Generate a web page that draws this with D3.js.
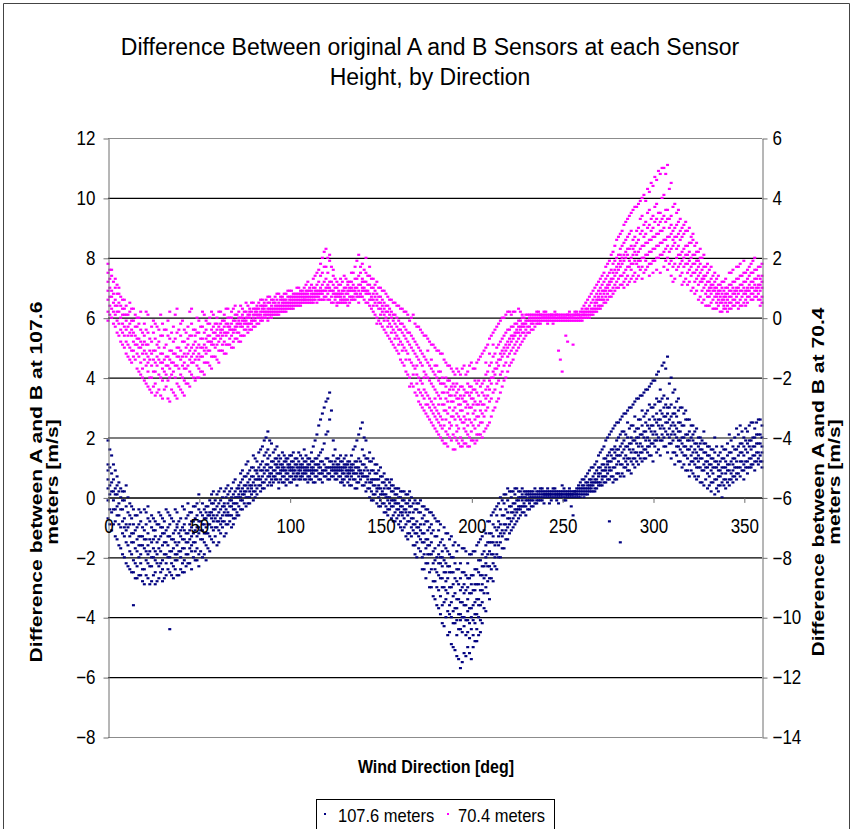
<!DOCTYPE html>
<html>
<head>
<meta charset="utf-8">
<script src="https://cdn.jsdelivr.net/npm/d3@7"></script>
<style>
  body { margin: 0; background: #fff; }
  text { font-family: "Liberation Sans", Arial, sans-serif; }
</style>
</head>
<body>
<div class="chart"></div>
<script>
// chart texts
var titleLines = ["Difference Between original A and B Sensors at each Sensor", "Height, by Direction"];
var xTitle = "Wind Direction [deg]";
var leftTitle = ["Difference between A and B at 107.6", "meters [m/s]"];
var rightTitle = ["Difference between A and B at 70.4", "meters [m/s]"];
var seriesNames = ["107.6 meters", "70.4 meters"];

// ticks
var xTicks = [0, 50, 100, 150, 200, 250, 300, 350];
var leftTicks = [-8, -6, -4, -2, 0, 2, 4, 6, 8, 10, 12];
var rightTicks = [-14, -12, -10, -8, -6, -4, -2, 0, 2, 4, 6];

// 107.6 m differences [m/s]: [direction, values...]
var upper = [
  [0, 1.9, 0.6, -0.1, 1.1, -0.7, 0.3, 0.9], [2, 1.4, 0.2, -0.5, 0.8, -1.1, 0.5], [4, 0.9, -0.4, -1.3, 0.3, -0.8, 0.1],
  [6, 0.5, -0.9, -0.2, -1.6, -0.6, 0.2], [8, 0.2, -1.2, -0.4, -1.9, -0.8, -0.1], [10, -0.3, -1.5, 0.4, -2.2, -0.9, -1.1],
  [12, -0.6, -1.8, -0.2, -1.3, -2.4, -0.9], [14, -0.9, -2.1, -0.4, -1.5, -3.6, -1.2, -2.5], [16, -1.4, -0.6, -2.3, -1.0, -2.7, -1.8],
  [18, -0.8, -1.9, -1.3, -2.6, -0.5, -1.6, -2.2], [20, -1.1, -2.4, -0.4, -1.7, -2.9, -1.4], [22, -1.6, -0.7, -2.2, -1.2, -2.7, -1.9, -0.3],
  [24, -2.0, -1.0, -2.8, -1.5, -0.6, -2.3], [26, -1.3, -2.5, -0.8, -1.8, -2.9, -1.1, -2.1], [28, -1.7, -0.5, -2.3, -1.4, -2.7, -0.9],
  [30, -2.1, -1.2, -2.8, -0.7, -1.6, -2.4, -1.0], [32, -1.5, -2.6, -0.4, -1.9, -1.1, -2.2], [34, -1.8, -0.9, -4.4, -1.3, -2.5, -0.6, -2.0],
  [36, -1.2, -2.3, -0.8, -1.7, -2.7, -1.4], [38, -1.6, -0.5, -2.1, -1.0, -2.6, -1.9, -0.9], [40, -1.3, -2.4, -0.7, -1.8, -1.1, -2.0],
  [42, -0.9, -1.7, -2.5, -0.4, -1.4, -2.1, -1.1], [44, -1.5, -0.6, -2.2, -1.2, -1.9, -0.2], [46, -1.0, -1.8, -0.5, -2.4, -1.3, -0.8, -1.6],
  [48, -0.7, -1.5, -2.1, -0.3, -1.1, -1.8], [50, -1.2, -0.4, -1.9, -0.8, -2.3, -1.0, 0.1], [52, -0.6, -1.4, -0.9, -2.0, -0.2, -1.1],
  [54, -1.0, -0.3, -1.6, -0.7, -2.1, -1.2, -0.5], [56, -0.5, -1.3, -0.1, -0.9, -1.8, -0.6], [58, -0.8, -0.2, -1.5, -0.6, -1.1, 0.2, -0.4],
  [60, -0.3, -1.0, -0.6, -1.6, 0.1, -0.8], [62, -0.7, -0.1, -1.2, -0.4, -0.9, 0.3], [64, -0.2, -0.8, -0.5, -1.3, 0.2, -0.3],
  [66, -0.5, 0.1, -0.9, -0.2, -0.6, 0.4], [68, 0.0, -0.6, -0.3, -1.0, 0.3, -0.1], [70, -0.4, 0.2, -0.7, 0.0, -0.2, 0.6],
  [72, 0.1, -0.3, 0.4, -0.6, 0.0, 0.3], [74, -0.1, 0.3, -0.4, 0.6, 0.1, 0.9], [76, 0.4, 0.0, 0.7, -0.3, 0.2, 1.1],
  [78, 0.2, 0.6, 0.0, 0.9, 0.4, -0.2], [80, 0.5, 0.2, 1.0, 0.7, -0.1, 1.4], [82, 0.8, 0.3, 0.6, 1.2, 0.1, 0.9],
  [84, 0.6, 1.1, 0.4, 1.6, 0.9, 0.2], [86, 1.0, 0.5, 1.4, 0.8, 1.9, 0.3], [88, 0.7, 1.3, 2.2, 0.9, 1.6, 0.4, 1.1],
  [90, 1.2, 0.6, 1.0, 1.8, 0.8, 0.4], [92, 0.9, 1.3, 0.6, 1.1, 1.6, 0.7], [94, 0.8, 1.2, 0.5, 1.0, 1.4, 0.3],
  [96, 1.1, 0.7, 0.9, 1.5, 0.5, 1.0], [98, 0.9, 0.6, 1.2, 0.8, 1.3, 0.4], [100, 0.7, 1.0, 0.5, 1.4, 0.9, 1.1],
  [102, 1.0, 0.8, 1.2, 0.6, 0.9, 1.5], [104, 0.8, 1.1, 0.4, 1.0, 1.3, 0.7], [106, 1.1, 0.7, 0.9, 1.4, 0.6, 1.0],
  [108, 0.9, 1.2, 0.6, 0.8, 1.6, 1.0], [110, 0.7, 1.0, 1.3, 0.5, 0.9, 1.1], [112, 1.0, 0.8, 1.5, 0.6, 1.2, 0.9],
  [114, 0.9, 1.9, 0.7, 1.1, 0.5, 1.3], [116, 1.1, 0.8, 2.4, 1.0, 0.6, 1.4], [118, 0.8, 1.2, 2.8, 0.9, 1.6, 0.5],
  [120, 1.0, 3.2, 0.7, 1.3, 2.1, 0.9], [122, 1.2, 0.8, 3.5, 1.0, 2.6, 0.6], [124, 0.9, 1.1, 0.7, 1.9, 1.0, 1.4],
  [126, 1.1, 0.8, 1.3, 0.6, 1.0, 0.9], [128, 0.9, 1.2, 0.7, 1.0, 0.5, 1.4], [130, 1.0, 0.6, 1.1, 0.8, 1.3, 0.4],
  [132, 0.8, 1.1, 0.5, 0.9, 1.2, 0.7], [134, 1.0, 0.7, 1.4, 0.4, 0.9, 1.1], [136, 0.6, 1.0, 0.8, 1.7, 0.3, 1.2],
  [138, 0.9, 0.5, 1.3, 2.1, 0.7, 1.0], [140, 0.7, 2.5, 0.4, 1.1, 0.8, 1.6], [142, 0.5, 1.0, 0.2, 1.9, 0.7, 1.3],
  [144, 0.8, 0.3, 1.2, 0.5, 0.0, 1.5], [146, 0.4, 0.9, 0.1, 0.6, 1.3, -0.1], [148, 0.6, 0.2, 1.1, 0.3, -0.2, 0.8],
  [150, 0.3, -0.1, 0.7, 0.1, 1.0, -0.3], [152, 0.1, 0.5, -0.2, 0.3, -0.5, 0.8], [154, -0.1, 0.3, -0.4, 0.6, 0.0, -0.6],
  [156, 0.2, -0.3, 0.4, -0.1, -0.7, 0.6], [158, -0.2, 0.1, -0.5, 0.3, -0.8, -0.1], [160, -0.4, 0.0, -0.2, -0.9, 0.3, -0.6],
  [162, -0.1, -0.6, 0.2, -0.3, -1.1, -0.5], [164, -0.5, -0.2, -0.9, 0.1, -1.3, -0.4], [166, -0.3, -0.8, -0.1, -1.2, -0.5, 0.2],
  [168, -0.7, -0.2, -1.1, -0.5, -1.6, -0.9], [170, -0.4, -1.0, -1.5, -0.2, -0.8, -2.0, -1.2], [172, -0.9, -0.5, -1.4, -0.1, -1.8, -1.1],
  [174, -1.2, -0.6, -1.9, -0.9, -2.4, -1.5, -0.3], [176, -0.8, -1.6, -1.1, -2.2, -0.4, -1.9, -1.4], [178, -1.5, -0.9, -2.4, -1.2, -3.0, -1.9, -0.5],
  [180, -1.3, -2.1, -2.8, -1.7, -3.4, -0.7, -2.4], [182, -1.9, -1.1, -2.6, -3.1, -1.6, -2.2, -3.7, -0.8],
  [184, -2.3, -1.4, -3.0, -2.0, -3.6, -1.8, -4.2, -2.7], [186, -1.7, -2.8, -3.4, -2.2, -4.0, -1.2, -3.1, -2.5],
  [188, -2.5, -3.6, -1.9, -3.0, -4.5, -2.3, -3.9, -1.4], [190, -2.9, -2.0, -3.8, -3.3, -5.0, -2.5, -4.2, -1.6],
  [192, -3.4, -2.4, -4.1, -2.8, -5.3, -3.7, -1.8, -4.6], [194, -2.7, -3.9, -3.1, -4.4, -2.2, -5.7, -3.5, -4.1],
  [196, -3.6, -2.5, -4.3, -3.2, -5.2, -2.9, -4.0, -1.7], [198, -3.0, -4.1, -2.7, -3.8, -5.0, -3.4, -4.5, -2.2],
  [200, -3.7, -2.6, -4.4, -3.2, -5.4, -2.9, -4.0, -1.9], [202, -2.9, -4.2, -3.5, -2.4, -4.8, -3.9, -1.8, -3.1],
  [204, -3.4, -2.5, -4.0, -2.9, -4.6, -2.1, -3.6, -1.5], [206, -2.6, -3.5, -1.9, -3.1, -4.2, -2.3, -1.3, -2.9],
  [208, -2.2, -3.0, -1.6, -2.6, -3.8, -1.2, -2.0], [210, -1.8, -2.7, -1.2, -2.3, -3.4, -0.8, -1.5],
  [212, -1.5, -2.2, -0.9, -1.9, -2.8, -0.5, -1.3], [214, -1.1, -1.9, -0.6, -1.5, -2.4, -0.3], [216, -0.9, -1.5, -0.4, -1.2, -2.0, 0.0],
  [218, -0.6, -1.2, -0.2, -0.9, -1.7, 0.1], [220, -0.5, -1.0, -0.1, -0.7, -1.4, 0.3], [222, -0.3, -0.8, 0.0, -0.5, -1.1, 0.2],
  [224, -0.2, -0.6, 0.1, -0.4, -0.9, 0.3], [226, -0.1, -0.4, 0.2, -0.3, -0.7, 0.0], [228, 0.0, -0.3, 0.1, -0.5, -0.1, 0.3],
  [230, -0.1, 0.1, -0.3, 0.0, -0.6, 0.2], [232, 0.0, -0.2, 0.2, -0.1, 0.1, -0.4], [234, 0.1, -0.1, 0.0, 0.2, -0.3],
  [236, 0.0, 0.2, -0.1, 0.1, -0.2], [238, 0.1, 0.0, 0.2, -0.1, 0.3], [240, 0.1, 0.2, 0.0, 0.1, -0.2],
  [242, 0.0, 0.1, 0.2, 0.1, 0.3], [244, 0.2, 0.1, 0.0, 0.1, -0.1], [246, 0.1, 0.0, 0.2, 0.1, 0.3],
  [248, 0.1, 0.2, 0.0, 0.1, -0.2], [250, 0.0, 0.1, 0.2, 0.1, 0.4], [252, 0.2, 0.1, 0.0, 0.1, -0.1],
  [254, 0.1, 0.2, 0.1, 0.0, 0.3], [256, 0.1, 0.0, 0.2, -0.6, 0.1], [258, 0.2, 0.1, 0.0, 0.1, 0.3],
  [260, 0.2, 0.0, 0.3, 0.1, 0.5], [262, 0.3, 0.1, 0.4, 0.0, 0.6, 0.2], [264, 0.2, 0.5, 0.1, 0.3, 0.8, 0.4],
  [266, 0.4, 0.2, 0.6, 0.3, 1.0, 0.5], [268, 0.5, 0.3, 0.8, 0.2, 1.1, 0.6], [270, 0.7, 0.4, 1.0, 0.5, 1.4, 0.8],
  [272, 0.6, 1.1, 0.4, 0.9, 1.6, 0.7], [274, 0.9, 0.5, 1.3, 0.7, 1.9, 1.0], [276, 1.2, 0.6, 1.5, 0.9, 2.1, 1.0, -0.8],
  [278, 1.0, 1.6, 0.7, 1.3, 2.3, 0.5], [280, 1.4, 0.8, 1.9, 1.1, 2.5, 0.6, 1.6], [282, 1.1, 1.7, 0.7, 2.1, 1.4, -1.5, 2.6],
  [284, 1.6, 1.0, 2.2, 1.3, 2.8, 0.7, 1.9], [286, 1.3, 2.0, 0.9, 1.7, 2.5, 1.1, 2.9], [288, 1.8, 1.2, 2.4, 0.8, 2.0, 3.0, 1.5],
  [290, 1.5, 2.2, 1.0, 1.9, 2.7, 1.3, 3.2], [292, 2.0, 1.4, 2.6, 1.1, 2.3, 3.3, 1.7], [294, 1.7, 2.4, 1.2, 2.1, 2.9, 1.5, 3.4],
  [296, 2.2, 1.6, 2.8, 1.3, 2.5, 3.6, 1.9], [298, 1.9, 2.6, 1.4, 2.3, 3.1, 1.7, 3.7], [300, 2.4, 1.8, 3.0, 1.2, 2.7, 3.9, 2.1],
  [302, 2.1, 2.8, 1.5, 2.5, 3.3, 1.9, 4.1], [304, 2.6, 1.9, 3.2, 1.4, 2.9, 3.6, 2.3], [306, 2.3, 3.0, 1.7, 2.7, 4.5, 2.0, 3.4],
  [308, 2.8, 2.1, 3.3, 1.5, 2.5, 4.7, 3.0], [310, 2.4, 1.8, 3.1, 1.3, 2.7, 4.0, 2.1], [312, 2.1, 2.8, 1.5, 2.4, 3.6, 1.1, 3.0],
  [314, 2.5, 1.7, 2.9, 1.2, 2.2, 3.3, 1.9], [316, 1.8, 2.4, 1.0, 2.0, 3.0, 1.5], [318, 2.1, 1.4, 2.6, 0.9, 1.7, 2.9],
  [320, 1.6, 2.2, 1.1, 1.9, 0.7, 2.6], [322, 1.9, 1.2, 2.4, 0.8, 1.5, 2.1], [324, 1.3, 1.8, 0.6, 1.5, 2.3, 1.0],
  [326, 1.6, 1.0, 2.0, 0.5, 1.3, 1.8], [328, 1.1, 1.5, 0.4, 1.8, 0.9, 2.2], [330, 1.4, 0.8, 1.2, 0.3, 1.7, 1.0],
  [332, 0.9, 1.3, 0.5, 1.6, 0.2, 1.1], [334, 1.2, 0.6, 1.0, 0.1, 1.5, 2.0], [336, 0.7, 1.1, 0.4, 1.4, 0.9, 0.2],
  [338, 1.0, 0.5, 1.3, 0.8, 0.0, 1.7], [340, 0.8, 1.2, 0.3, 1.0, 1.6, 0.6], [342, 1.1, 0.6, 1.5, 0.9, 2.1, 0.4],
  [344, 0.9, 1.3, 0.5, 1.7, 1.1, 0.7], [346, 1.2, 0.8, 1.6, 0.6, 1.0, 2.3], [348, 1.0, 1.5, 0.7, 1.8, 1.2, 2.4],
  [350, 1.4, 0.9, 1.7, 1.1, 2.0, 0.6], [352, 1.2, 1.8, 1.0, 1.5, 2.2, 0.8], [354, 1.6, 1.1, 1.9, 1.3, 2.5, 1.0],
  [356, 1.4, 2.0, 1.2, 1.7, 2.3, 0.9], [358, 1.8, 1.3, 2.1, 1.5, 2.6, 1.1], [360, 1.5, 2.0, 1.2, 1.7, 2.4, 1.0],
  // odd directions
  [1, 1.6, 0.4, -0.4, 1.0, 0.1, -0.9], [3, 1.1, -0.1, 0.6, -0.9, 0.2, -0.4], [5, 0.7, -0.6, 0.1, -1.4, -0.3, 0.4],
  [7, 0.3, -1.0, -0.4, -1.7, 0.0], [9, -0.1, -1.3, -0.7, -2.0, 0.2, -1.0], [11, -0.5, -1.6, -1.0, -2.3, 0.0],
  [13, -0.7, -1.9, -1.2, -2.5, -0.3, -1.5], [15, -1.1, -2.2, -0.6, -1.7, -2.7], [17, -1.3, -0.9, -2.0, -2.6, -1.6, -0.4],
  [19, -1.6, -2.4, -1.0, -2.8, -1.3], [21, -0.9, -1.8, -2.6, -1.4, -0.5, -2.1], [23, -1.4, -2.3, -0.8, -2.9, -1.8],
  [25, -1.7, -1.1, -2.6, -2.0, -0.7, -1.4], [27, -2.2, -1.5, -0.9, -2.8, -1.9], [29, -1.3, -2.5, -1.8, -0.6, -2.2, -1.0],
  [31, -1.9, -1.2, -2.7, -1.5, -0.8], [33, -1.6, -2.4, -1.0, -2.0, -0.5, -1.3], [35, -2.2, -1.4, -0.7, -2.6, -1.8],
  [37, -1.1, -1.9, -2.4, -1.5, -0.4, -2.1], [39, -1.8, -1.2, -2.6, -0.8, -1.5], [41, -1.4, -2.2, -1.0, -1.7, -0.3, -2.5],
  [43, -1.9, -1.2, -0.7, -2.3, -1.5], [45, -1.1, -1.7, -2.2, -0.5, -1.4, -0.9], [47, -1.5, -0.8, -2.0, -1.2, -0.3],
  [49, -1.0, -1.7, -0.6, -2.1, -1.3, -0.2], [51, -1.4, -0.8, -1.8, -0.5, -1.1], [53, -0.9, -1.5, -0.4, -1.2, -1.9, -0.7],
  [55, -1.2, -0.6, -1.7, -0.3, -0.9], [57, -0.7, -1.4, -0.2, -1.0, -0.5, 0.1], [59, -1.0, -0.4, -1.3, -0.7, -0.1],
  [61, -0.5, -1.1, -0.2, -0.8, -1.5, 0.2], [63, -0.8, -0.3, -1.0, -0.6, 0.0], [65, -0.4, -0.9, 0.0, -0.6, -1.2, 0.3],
  [67, -0.6, -0.1, -0.8, -0.3, 0.2], [69, -0.2, -0.7, 0.1, -0.4, -0.9, 0.5], [71, -0.5, 0.0, -0.2, 0.3, -0.6],
  [73, 0.0, -0.4, 0.2, -0.1, 0.5, 0.8], [75, 0.1, 0.4, -0.2, 0.2, 0.7], [77, 0.3, 0.0, 0.5, -0.2, 0.8, 1.2],
  [79, 0.4, 0.1, 0.7, 0.3, 1.0], [81, 0.6, 0.2, 0.9, 0.4, 1.3, 0.0], [83, 0.7, 0.4, 1.0, 0.6, 1.5],
  [85, 0.9, 0.5, 1.2, 0.7, 1.7, 0.3], [87, 1.1, 0.6, 1.5, 0.9, 2.0], [89, 1.0, 0.7, 1.4, 0.5, 1.9, 0.8],
  [91, 0.9, 1.2, 0.7, 1.5, 0.5], [93, 1.1, 0.8, 1.3, 0.6, 1.0, 1.7], [95, 0.9, 1.1, 0.6, 1.3, 0.8],
  [97, 1.0, 0.7, 1.2, 0.5, 0.9, 1.4], [99, 0.8, 1.1, 0.6, 1.0, 1.3], [101, 1.0, 0.7, 1.2, 0.9, 0.5, 1.4],
  [103, 0.9, 1.1, 0.7, 1.3, 0.6], [105, 1.0, 0.8, 1.2, 0.6, 0.9, 1.5], [107, 0.8, 1.1, 0.7, 1.0, 1.3],
  [109, 1.0, 0.6, 1.2, 0.8, 0.9, 1.4], [111, 0.9, 1.1, 0.7, 1.3, 0.6], [113, 1.0, 0.8, 1.2, 0.5, 1.7, 0.9],
  [115, 0.9, 1.1, 0.7, 2.1, 1.3], [117, 1.0, 0.8, 1.2, 2.6, 0.6, 1.5], [119, 0.9, 1.1, 3.0, 0.7, 1.8],
  [121, 1.0, 0.8, 1.3, 3.3, 0.6, 2.2], [123, 0.9, 1.2, 0.7, 2.9, 1.0], [125, 1.0, 0.8, 1.2, 0.6, 1.6, 0.9],
  [127, 0.9, 1.1, 0.7, 1.0, 1.3], [129, 0.8, 1.0, 0.6, 1.2, 0.9, 0.5], [131, 1.0, 0.7, 1.1, 0.9, 1.4],
  [133, 0.8, 1.0, 0.6, 1.2, 0.4, 0.9], [135, 0.9, 1.1, 0.6, 1.6, 0.8], [137, 0.8, 1.2, 0.5, 1.9, 1.0, 0.3],
  [139, 0.9, 0.6, 1.2, 2.3, 0.8], [141, 0.7, 1.1, 0.4, 2.0, 0.9, 1.4], [143, 0.6, 0.9, 0.3, 1.3, 0.7],
  [145, 0.5, 0.9, 0.2, 1.2, 0.6, -0.1], [147, 0.4, 0.8, 0.1, 0.6, 1.1], [149, 0.3, 0.6, 0.0, 0.9, 0.4, -0.3],
  [151, 0.2, 0.5, -0.2, 0.7, 0.1], [153, 0.1, 0.4, -0.3, 0.6, 0.0, -0.5], [155, 0.0, 0.3, -0.4, 0.5, -0.2],
  [157, -0.1, 0.2, -0.6, 0.4, -0.3, -0.8], [159, -0.2, 0.1, -0.7, 0.3, -0.4], [161, -0.3, 0.0, -0.8, 0.2, -0.5, -1.0],
  [163, -0.4, -0.1, -1.0, 0.2, -0.7], [165, -0.6, -0.2, -1.2, 0.1, -0.8, -1.4], [167, -0.7, -0.3, -1.3, 0.0, -1.0],
  [169, -0.9, -0.4, -1.6, -0.1, -1.2, -1.9], [171, -1.0, -0.5, -1.7, -0.2, -1.3], [173, -1.2, -0.7, -2.0, -0.3, -1.5, -2.4],
  [175, -1.4, -0.8, -2.2, -0.4, -1.7, -2.7], [177, -1.6, -1.0, -2.5, -0.5, -1.9, -3.0], [179, -1.8, -1.1, -2.8, -0.6, -2.2, -3.3],
  [181, -2.0, -1.3, -3.0, -0.8, -2.5, -3.6], [183, -2.2, -1.5, -3.3, -0.9, -2.7, -3.9, -2.0], [185, -2.5, -1.6, -3.5, -1.0, -3.0, -4.3, -2.1],
  [187, -2.7, -1.8, -3.8, -1.2, -3.2, -4.6, -2.3], [189, -3.0, -2.0, -4.0, -1.3, -3.5, -4.9, -2.5], [191, -3.2, -2.2, -4.2, -1.5, -3.7, -5.1, -2.7],
  [193, -3.4, -2.4, -4.4, -1.6, -3.9, -5.4, -2.9], [195, -3.5, -2.5, -4.5, -1.7, -4.0, -5.5, -3.0], [197, -3.6, -2.6, -4.6, -1.8, -4.1, -5.3, -3.1],
  [199, -3.7, -2.7, -4.7, -1.9, -4.2, -5.2, -3.2], [201, -3.6, -2.6, -4.6, -1.8, -4.1, -5.0, -3.1], [203, -3.4, -2.4, -4.4, -1.6, -3.9, -4.8, -2.9],
  [205, -3.1, -2.1, -4.1, -1.4, -3.6, -4.5, -2.6], [207, -2.7, -1.8, -3.7, -1.1, -3.2, -2.3], [209, -2.3, -1.5, -3.2, -0.8, -2.8, -1.9],
  [211, -1.9, -1.2, -2.7, -0.6, -2.4, -1.5], [213, -1.6, -1.0, -2.3, -0.4, -2.0], [215, -1.3, -0.8, -2.0, -0.2, -1.6, -1.0],
  [217, -1.1, -0.6, -1.7, -0.1, -1.3], [219, -0.9, -0.4, -1.4, 0.1, -1.1], [221, -0.7, -0.3, -1.2, 0.2, -0.9],
  [223, -0.5, -0.2, -1.0, 0.2, -0.7], [225, -0.4, -0.1, -0.8, 0.3, -0.5], [227, -0.3, 0.0, -0.6, 0.2, -0.4],
  [229, -0.2, 0.0, -0.5, 0.2, -0.3], [231, -0.1, 0.1, -0.4, 0.2], [233, -0.1, 0.1, -0.3, 0.2, 0.0],
  [235, 0.0, 0.1, -0.2, 0.3], [237, 0.1, -0.1, 0.2, 0.0], [239, 0.0, 0.2, 0.1, -0.1, 0.3],
  [241, 0.1, 0.0, 0.2, 0.1], [243, 0.1, 0.2, 0.0, -0.2, 0.1], [245, 0.2, 0.1, 0.0, 0.3],
  [247, 0.0, 0.1, 0.2, 0.1, -0.1], [249, 0.1, 0.2, 0.0, 0.1], [251, 0.1, 0.0, 0.2, 0.3, -0.1],
  [253, 0.0, 0.1, 0.2, 0.1], [255, 0.1, 0.2, 0.0, 0.1, -0.3], [257, 0.2, 0.1, 0.0, 0.2],
  [259, 0.1, 0.2, 0.3, 0.0, 0.4], [261, 0.2, 0.1, 0.4, 0.3, 0.6], [263, 0.3, 0.1, 0.5, 0.2, 0.7],
  [265, 0.4, 0.2, 0.6, 0.3, 0.9], [267, 0.5, 0.2, 0.7, 0.4, 1.0], [269, 0.6, 0.3, 0.9, 0.5, 1.2],
  [271, 0.8, 0.4, 1.0, 0.5, 1.5], [273, 0.7, 0.5, 1.3, 0.9, 1.7, 1.1], [275, 1.1, 0.6, 1.4, 0.8, 2.0, 1.2],
  [277, 0.9, 0.7, 1.6, 1.2, 2.2, 1.4], [279, 1.3, 0.6, 1.7, 1.0, 2.4, 1.5], [281, 1.2, 0.8, 2.0, 1.4, 2.5, 1.6],
  [283, 1.5, 0.8, 1.8, 1.1, 2.7, 2.2], [285, 1.4, 1.0, 2.1, 1.7, 2.8, 1.2], [287, 1.8, 0.9, 2.3, 1.3, 3.0, 1.6],
  [289, 1.6, 1.1, 2.4, 1.9, 3.1, 1.3], [291, 2.0, 1.2, 2.3, 1.5, 3.3, 1.8], [293, 1.8, 1.3, 2.6, 2.1, 3.4, 1.5],
  [295, 2.2, 1.3, 2.7, 1.6, 3.5, 2.0], [297, 2.0, 1.5, 2.9, 2.4, 3.6, 1.7], [299, 2.4, 1.4, 3.0, 1.8, 3.8, 2.2],
  [301, 2.2, 1.7, 3.1, 2.6, 3.9, 1.9], [303, 2.6, 1.6, 3.2, 2.0, 4.2, 2.4], [305, 2.4, 1.9, 3.3, 2.8, 4.4, 2.1],
  [307, 2.7, 1.7, 3.1, 2.2, 4.3, 2.5], [309, 2.3, 1.8, 3.0, 2.6, 3.8, 2.0], [311, 2.5, 1.5, 2.8, 1.9, 3.5, 2.2],
  [313, 2.0, 1.4, 2.7, 2.3, 3.2, 1.7], [315, 2.2, 1.2, 2.5, 1.6, 3.0, 1.9], [317, 1.7, 1.1, 2.4, 2.0, 2.8, 1.4],
  [319, 1.9, 0.9, 2.1, 1.3, 2.6, 1.6], [321, 1.4, 0.9, 2.0, 1.7, 2.4, 1.2], [323, 1.6, 0.7, 1.8, 1.1, 2.2, 1.3],
  [325, 1.2, 0.7, 1.7, 1.4, 2.0, 1.0], [327, 1.3, 0.5, 1.6, 0.9, 1.9], [329, 1.0, 0.6, 1.5, 1.2, 1.8],
  [331, 1.1, 0.4, 1.4, 0.7, 1.7], [333, 0.8, 0.5, 1.3, 1.0, 1.6], [335, 1.0, 0.3, 1.2, 0.6, 1.7],
  [337, 0.7, 0.4, 1.2, 0.9, 1.5], [339, 1.0, 0.4, 1.3, 0.6, 1.6], [341, 0.9, 0.5, 1.4, 1.1, 1.8],
  [343, 1.2, 0.6, 1.5, 0.8, 1.9], [345, 1.0, 0.7, 1.6, 1.3, 2.0], [347, 1.4, 0.8, 1.7, 1.0, 2.1],
  [349, 1.2, 0.9, 1.8, 1.5, 2.2], [351, 1.6, 1.0, 1.9, 1.2, 2.3], [353, 1.3, 1.0, 1.9, 1.7, 2.4],
  [355, 1.7, 1.1, 2.0, 1.4, 2.5], [357, 1.5, 1.2, 2.1, 1.8, 2.5], [359, 1.8, 1.2, 2.1, 1.4, 2.6]
];

// 70.4 m differences [m/s] (right axis): [direction, values...]
var lower = [
  [0, 1.8, 0.6, 1.2, 0.2, 0.9, 1.5, -0.1], [2, 1.4, 0.3, 0.9, 0.0, 0.7, 1.6], [4, 1.0, 0.1, 0.6, -0.3, 0.4, 1.3],
  [6, 0.5, -0.2, 0.8, -0.6, 0.2, 1.0], [8, 0.3, -0.5, 0.1, -0.9, 0.6, -0.2], [10, -0.1, -0.8, 0.4, -0.4, -1.2, 0.1],
  [12, -0.5, 0.2, -1.0, -0.2, -1.4, 0.5], [14, -0.8, -0.1, -1.3, -0.5, 0.3, -1.1], [16, -0.3, -1.2, -0.7, -1.7, 0.0, -0.9],
  [18, -1.0, -0.4, -1.5, -0.8, -1.9, 0.2], [20, -0.6, -1.4, -0.2, -1.1, -2.1, -0.8], [22, -1.3, -0.5, -1.8, -0.9, -2.3, 0.1, -1.5],
  [24, -0.8, -1.6, -0.3, -2.0, -1.2, -2.5], [26, -1.5, -0.7, -2.2, -1.1, -0.2, -1.8, -2.6], [28, -1.0, -1.9, -0.4, -1.4, -2.4, -0.8],
  [30, -1.7, -0.6, -2.1, -1.2, -2.7, -0.2, -1.5], [32, -0.9, -1.6, -2.3, -0.4, -1.3, -1.9], [34, -1.4, -0.7, -2.0, -2.8, -1.1, 0.2, -1.7],
  [36, -0.8, -1.8, -1.2, -2.5, -0.3, -1.5], [38, -1.6, -0.5, -2.2, -1.0, -2.7, -1.3, 0.3], [40, -1.1, -1.9, -0.6, -1.4, -2.4, -0.2],
  [42, -1.5, -0.8, -2.1, -1.2, -0.4, -1.7, -2.6], [44, -0.9, -1.6, -0.3, -1.2, -2.2, -0.7], [46, -1.3, -0.6, -1.9, -1.0, -0.2, -1.5, 0.3],
  [48, -0.8, -1.4, -0.4, -2.1, -1.1, -0.6], [50, -1.2, -0.5, -1.7, -0.9, -0.1, -1.4, -2.0], [52, -0.7, -1.3, -0.3, -1.0, -1.8, 0.2],
  [54, -1.0, -0.4, -1.5, -0.7, -0.1, -1.2], [56, -0.6, -1.1, -0.2, -0.8, -1.6, 0.0], [58, -0.9, -0.3, -1.3, -0.5, 0.1, -0.7],
  [60, -0.4, -0.9, 0.0, -0.6, -1.4, -0.2], [62, -0.7, -0.2, -1.1, -0.4, 0.2, -0.5], [64, -0.3, -0.8, 0.1, -0.5, -1.2, -0.1],
  [66, -0.5, 0.0, -0.9, -0.3, 0.3, -0.2], [68, -0.2, -0.6, 0.2, -0.4, -1.0, 0.0], [70, -0.4, 0.1, -0.7, -0.1, 0.4, -0.3],
  [72, -0.1, -0.5, 0.2, -0.2, -0.8, 0.0], [74, -0.3, 0.1, -0.6, 0.3, -0.1, 0.0], [76, 0.0, -0.4, 0.2, -0.1, 0.5, -0.2],
  [78, -0.2, 0.1, -0.4, 0.3, 0.0, 0.2], [80, 0.1, -0.3, 0.3, 0.0, 0.5, -0.1], [82, 0.0, 0.2, -0.2, 0.4, 0.1, 0.3],
  [84, 0.2, -0.1, 0.4, 0.1, 0.6, 0.0], [86, 0.1, 0.3, 0.0, 0.5, 0.2, 0.4], [88, 0.3, 0.1, 0.5, -0.1, 0.2, 0.7],
  [90, 0.2, 0.4, 0.1, 0.6, 0.3, 0.0], [92, 0.4, 0.2, 0.5, 0.3, 0.7, 0.1], [94, 0.3, 0.5, 0.2, 0.4, 0.8, 0.1],
  [96, 0.5, 0.3, 0.6, 0.2, 0.4, 0.7], [98, 0.4, 0.6, 0.3, 0.5, 0.8, 0.2], [100, 0.6, 0.4, 0.7, 0.3, 0.5, 0.9],
  [102, 0.5, 0.7, 0.4, 0.6, 0.3, 0.8], [104, 0.6, 0.4, 0.8, 0.5, 0.7, 1.0], [106, 0.7, 0.5, 0.6, 0.9, 0.4, 0.8],
  [108, 0.6, 0.8, 0.5, 0.7, 1.0, 0.6], [110, 0.8, 0.6, 0.9, 0.5, 0.7, 1.2], [112, 0.7, 0.9, 0.6, 0.8, 1.1, 0.5],
  [114, 0.8, 0.6, 1.0, 0.7, 1.4, 0.9], [116, 0.9, 0.7, 1.2, 0.6, 1.6, 0.8], [118, 0.8, 1.1, 0.6, 1.5, 0.9, 2.0],
  [120, 1.0, 0.7, 1.3, 2.3, 0.9, 1.7], [122, 0.9, 1.2, 0.6, 1.9, 1.0, 2.1], [124, 0.8, 1.1, 0.5, 1.4, 0.9, 1.6],
  [126, 0.7, 1.0, 0.5, 1.2, 0.8, 0.4], [128, 0.8, 0.6, 1.1, 0.7, 1.3, 0.5], [130, 0.7, 0.9, 0.5, 1.0, 0.6, 1.4],
  [132, 0.8, 0.6, 1.1, 0.9, 0.4, 1.2], [134, 0.9, 0.7, 1.2, 0.6, 1.5, 1.0], [136, 1.0, 0.8, 1.3, 0.6, 1.7, 0.9],
  [138, 1.1, 0.7, 1.4, 0.9, 2.1, 0.5], [140, 1.0, 1.3, 0.7, 1.8, 0.9, 1.2], [142, 0.9, 1.2, 0.5, 1.5, 0.8, 2.0],
  [144, 0.8, 1.1, 0.4, 1.4, 0.6, 1.7], [146, 0.6, 1.0, 0.2, 0.8, 1.3, 0.4], [148, 0.4, 0.8, 0.0, 0.6, 1.2, -0.2],
  [150, 0.3, 0.7, -0.2, 0.5, 1.0, 0.1], [152, 0.1, 0.5, -0.4, 0.3, 0.9, -0.1], [154, -0.1, 0.4, -0.6, 0.2, 0.7, -0.3],
  [156, -0.3, 0.2, -0.8, 0.0, 0.6, -0.5], [158, -0.5, 0.1, -1.0, -0.2, 0.5, -0.7], [160, -0.7, -0.1, -1.2, -0.4, 0.4, -0.9],
  [162, -0.9, -0.2, -1.5, -0.5, 0.3, -1.1], [164, -1.1, -0.4, -1.8, -0.7, 0.2, -1.4], [166, -1.4, -0.5, -2.0, -0.9, -2.3, -0.1],
  [168, -1.6, -0.7, -2.3, -1.1, 0.1, -1.9], [170, -1.9, -0.9, -2.6, -1.3, -0.3, -2.2, -1.6], [172, -2.1, -1.1, -2.9, -1.5, -0.4, -2.5],
  [174, -2.4, -1.3, -3.1, -1.8, -0.6, -2.7, -2.0], [176, -2.6, -1.5, -3.3, -2.0, -0.7, -2.9, -1.1], [178, -2.8, -1.7, -3.5, -2.2, -0.9, -3.1, -1.4],
  [180, -3.0, -1.9, -3.7, -2.4, -1.0, -3.3, -1.6, -2.7], [182, -3.2, -2.1, -3.9, -2.6, -1.1, -3.5, -1.8, -2.9],
  [184, -2.5, -3.4, -2.0, -4.1, -2.9, -1.2, -3.7, -2.2], [186, -3.1, -2.3, -3.8, -2.7, -4.2, -1.5, -3.4, -2.0],
  [188, -2.6, -3.5, -2.1, -4.0, -3.0, -1.6, -3.7, -2.4], [190, -3.3, -2.4, -3.9, -2.8, -4.4, -1.8, -3.1, -2.2],
  [192, -2.7, -3.6, -2.2, -4.1, -3.2, -1.7, -3.8, -2.5], [194, -3.4, -2.6, -4.0, -2.9, -4.3, -1.9, -3.1, -2.3],
  [196, -2.8, -3.7, -2.4, -4.2, -3.3, -1.6, -3.5, -2.6], [198, -3.2, -2.5, -3.9, -2.9, -4.3, -1.8, -3.6, -2.2],
  [200, -2.7, -3.5, -2.3, -4.1, -3.0, -1.5, -3.8, -2.5], [202, -3.1, -2.4, -3.7, -2.8, -4.2, -1.7, -3.4, -2.1],
  [204, -2.6, -3.3, -2.1, -3.9, -2.9, -1.4, -3.6], [206, -2.9, -2.2, -3.5, -2.5, -4.0, -1.2, -3.2],
  [208, -2.4, -3.1, -1.9, -3.7, -2.7, -1.0, -1.5], [210, -2.1, -2.8, -1.6, -3.5, -2.4, -0.7, -1.2],
  [212, -1.8, -2.5, -1.3, -3.1, -2.0, -0.5, -0.9], [214, -1.5, -2.2, -1.0, -2.8, -1.7, -0.3], [216, -1.2, -1.9, -0.8, -2.5, -1.4, -0.1],
  [218, -1.0, -1.6, -0.6, -2.1, -1.2, 0.0], [220, -0.8, -1.3, -0.4, -1.8, -1.0, 0.2], [222, -0.6, -1.1, -0.3, -1.5, -0.8, 0.1],
  [224, -0.5, -0.9, -0.2, -1.2, -0.6, 0.2], [226, -0.3, -0.7, -0.1, -1.0, -0.5, 0.3], [228, -0.2, -0.5, 0.0, -0.8, -0.3, 0.1],
  [230, -0.1, -0.4, 0.1, -0.6, -0.2], [232, 0.0, -0.3, 0.1, -0.5, -0.1], [234, -0.1, 0.1, -0.2, 0.0, -0.4],
  [236, 0.0, -0.1, 0.1, -0.2, 0.2], [238, 0.1, 0.0, -0.1, 0.1, -0.2], [240, 0.0, 0.1, -0.1, 0.0, 0.2],
  [242, 0.0, -0.1, 0.1, 0.0, -0.2], [244, 0.1, 0.0, -0.1, 0.1, 0.0], [246, 0.0, 0.1, 0.0, -0.1, 0.2],
  [248, 0.0, -0.1, 0.1, 0.0, -1.1], [250, 0.1, 0.0, -0.1, -1.8, 0.0], [252, 0.0, 0.1, 0.0, -0.1, -0.6],
  [254, 0.1, 0.0, -0.1, 0.0, 0.2], [256, 0.0, 0.1, -0.9, 0.0, -0.1], [258, 0.1, 0.0, 0.1, -0.1, 0.2],
  [260, 0.0, 0.1, 0.0, 0.2, -0.1], [262, 0.1, 0.0, 0.2, 0.1, 0.4], [264, 0.2, 0.1, 0.3, 0.0, 0.6],
  [266, 0.3, 0.1, 0.5, 0.2, 0.8], [268, 0.4, 0.2, 0.7, 0.3, 1.0, 0.5], [270, 0.6, 0.3, 0.9, 0.4, 1.2, 0.7],
  [272, 0.7, 0.4, 1.1, 0.6, 1.4, 0.9], [274, 0.9, 0.5, 1.3, 0.7, 1.7, 1.0], [276, 1.1, 0.7, 1.5, 0.9, 1.9, 1.2],
  [278, 1.3, 0.8, 1.8, 1.0, 2.2, 1.5], [280, 1.5, 1.0, 2.0, 1.2, 2.6, 1.7], [282, 1.7, 1.1, 2.3, 1.4, 2.8, 1.9, 2.1],
  [284, 1.9, 1.2, 2.5, 1.5, 3.1, 2.1, 1.0], [286, 2.1, 1.4, 2.7, 1.7, 3.3, 2.3, 1.1], [288, 1.8, 2.4, 1.3, 2.9, 2.0, 3.5, 1.6],
  [290, 2.2, 1.5, 2.7, 1.9, 3.7, 2.4, 1.2], [292, 1.9, 2.6, 1.4, 3.0, 2.2, 3.8, 1.7], [294, 2.4, 1.7, 2.9, 2.0, 3.4, 4.0, 1.3],
  [296, 2.1, 2.8, 1.6, 3.2, 2.5, 3.9, 1.9], [298, 2.6, 1.8, 3.1, 2.2, 3.6, 4.2, 1.4], [300, 2.3, 3.0, 1.9, 3.4, 2.7, 4.4, 1.5],
  [302, 2.8, 2.0, 3.3, 2.4, 3.8, 4.6, 1.6], [304, 2.5, 3.2, 2.1, 3.5, 2.9, 4.8, 1.5], [306, 3.0, 2.2, 3.4, 2.6, 4.1, 5.0, 1.7],
  [308, 2.7, 3.3, 2.0, 3.6, 2.4, 5.1, 1.6], [310, 3.1, 2.3, 2.8, 3.4, 1.9, 4.5, 1.4], [312, 2.5, 3.0, 1.8, 2.7, 3.8, 1.3],
  [314, 2.8, 2.1, 3.2, 1.7, 2.4, 3.6], [316, 2.2, 2.7, 1.5, 3.0, 1.9, 1.1], [318, 2.4, 1.8, 2.9, 1.3, 2.1, 3.2],
  [320, 1.9, 2.5, 1.2, 2.2, 1.6, 3.0], [322, 2.1, 1.5, 2.6, 1.0, 1.8, 2.8], [324, 1.6, 2.2, 0.9, 1.9, 1.3, 2.5],
  [326, 1.8, 1.2, 2.0, 0.7, 1.5, 2.3], [328, 1.3, 1.7, 0.6, 1.4, 1.0, 2.1], [330, 1.5, 0.9, 1.2, 0.4, 1.8, 0.7],
  [332, 1.0, 1.3, 0.5, 1.1, 0.8, 1.7], [334, 1.2, 0.7, 1.0, 0.3, 0.9, 1.5], [336, 0.8, 1.1, 0.4, 0.9, 0.6, 1.4],
  [338, 1.0, 0.6, 0.8, 0.2, 1.2, 0.5], [340, 0.7, 1.0, 0.3, 0.8, 0.5, 1.3], [342, 0.9, 0.5, 1.1, 0.3, 0.7, 1.5],
  [344, 0.6, 1.0, 0.4, 1.2, 0.8, 1.6], [346, 0.9, 0.5, 1.3, 0.7, 1.0, 1.7], [348, 1.1, 0.6, 0.9, 1.4, 0.4, 1.8],
  [350, 0.8, 1.2, 0.5, 1.0, 1.5, 1.9], [352, 1.0, 0.7, 1.3, 0.9, 1.6, 0.5], [354, 1.2, 0.8, 1.5, 1.0, 1.8, 0.6],
  [356, 0.9, 1.3, 0.7, 1.6, 1.1, 2.0], [358, 1.1, 0.8, 1.4, 1.0, 1.7, 0.6], [360, 1.0, 1.4, 0.7, 1.2, 1.8, 0.5],
  // odd directions
  [1, 1.6, 0.4, 1.0, 0.1, 1.3, 0.7], [3, 1.2, 0.2, 0.8, -0.2, 0.5], [5, 0.8, -0.1, 0.4, -0.5, 1.1, 0.2],
  [7, 0.4, -0.4, 0.0, -0.8, 0.7], [9, 0.1, -0.6, 0.3, -1.0, -0.3, 0.6], [11, -0.3, -0.9, 0.1, -1.3, -0.6],
  [13, -0.6, -0.1, -1.1, -0.4, -1.5, 0.3], [15, -0.9, -0.3, -1.4, -0.6, 0.1], [17, -0.7, -1.3, -0.2, -1.8, -1.0, 0.0],
  [19, -1.2, -0.5, -1.7, -0.9, -2.0], [21, -0.9, -1.6, -0.4, -2.2, -1.2, 0.2], [23, -1.4, -0.7, -2.0, -1.1, -2.4],
  [25, -1.1, -1.8, -0.5, -2.3, -1.4, -0.1], [27, -1.6, -0.9, -2.5, -1.3, -0.3], [29, -1.2, -2.0, -0.6, -2.6, -1.5, 0.1],
  [31, -1.8, -1.0, -2.4, -1.4, -0.4], [33, -1.3, -2.1, -0.6, -2.7, -1.6, -0.1], [35, -1.9, -1.1, -2.4, -0.5, -1.5],
  [37, -1.2, -2.0, -0.7, -2.6, -1.6, 0.1], [39, -1.7, -1.0, -2.3, -0.4, -1.3], [41, -1.3, -2.0, -0.8, -2.5, -1.6, -0.1],
  [43, -1.7, -1.0, -2.2, -0.5, -1.3], [45, -1.1, -1.8, -0.6, -2.3, -1.4, 0.2], [47, -1.5, -0.9, -2.0, -0.4, -1.2],
  [49, -1.0, -1.6, -0.5, -2.0, -1.3, 0.0], [51, -1.3, -0.7, -1.8, -0.3, -1.0], [53, -0.9, -1.5, -0.5, -1.9, -1.1, 0.1],
  [55, -1.1, -0.6, -1.5, -0.2, -0.8], [57, -0.8, -1.3, -0.4, -1.7, -0.9, 0.2], [59, -1.0, -0.5, -1.3, -0.2, -0.7],
  [61, -0.6, -1.1, -0.3, -1.5, -0.8, 0.2], [63, -0.9, -0.4, -1.1, -0.1, -0.6], [65, -0.5, -0.9, -0.2, -1.2, -0.6, 0.3],
  [67, -0.7, -0.3, -0.9, 0.0, -0.4], [69, -0.4, -0.8, -0.1, -1.0, -0.5, 0.3], [71, -0.5, -0.2, -0.7, 0.1, -0.3],
  [73, -0.3, -0.6, 0.0, -0.8, -0.2, 0.4], [75, -0.4, -0.1, -0.6, 0.2, -0.2], [77, -0.2, -0.5, 0.1, -0.3, 0.4, 0.0],
  [79, -0.1, -0.4, 0.2, -0.2, 0.5], [81, -0.1, 0.2, -0.3, 0.3, 0.1], [83, 0.1, -0.2, 0.3, 0.0, 0.5],
  [85, 0.0, 0.3, -0.1, 0.4, 0.2, 0.6], [87, 0.2, 0.0, 0.4, 0.1, 0.6], [89, 0.1, 0.3, 0.0, 0.5, 0.2, 0.7],
  [91, 0.3, 0.1, 0.5, 0.2, 0.6], [93, 0.2, 0.4, 0.1, 0.6, 0.3, 0.8], [95, 0.4, 0.2, 0.6, 0.3, 0.7],
  [97, 0.3, 0.5, 0.2, 0.6, 0.4, 0.8], [99, 0.5, 0.3, 0.7, 0.4, 0.9], [101, 0.4, 0.6, 0.3, 0.7, 0.5, 0.9],
  [103, 0.6, 0.4, 0.8, 0.5, 0.7], [105, 0.5, 0.7, 0.4, 0.8, 0.6, 1.0], [107, 0.7, 0.5, 0.9, 0.6, 0.8],
  [109, 0.6, 0.8, 0.5, 0.9, 0.7, 1.1], [111, 0.7, 0.5, 0.9, 0.6, 1.0], [113, 0.8, 0.6, 1.0, 0.7, 1.3, 0.5],
  [115, 0.7, 0.9, 0.5, 1.1, 0.8, 1.5], [117, 0.8, 0.6, 1.0, 1.4, 0.9, 1.8], [119, 0.9, 0.7, 1.2, 1.7, 0.6, 2.2],
  [121, 0.8, 1.1, 0.6, 1.5, 2.0, 1.0], [123, 0.9, 0.7, 1.2, 1.7, 0.5], [125, 0.8, 0.6, 1.0, 1.3, 0.7],
  [127, 0.7, 0.9, 0.5, 1.1, 0.8], [129, 0.6, 0.9, 0.5, 1.2, 0.8], [131, 0.8, 0.6, 1.0, 0.5, 1.3],
  [133, 0.7, 1.0, 0.5, 1.2, 0.9], [135, 0.9, 0.7, 1.1, 0.6, 1.5], [137, 1.0, 0.7, 1.3, 0.8, 1.9],
  [139, 1.1, 0.8, 1.5, 0.7, 1.7], [141, 0.9, 1.2, 0.6, 1.6, 1.0], [143, 0.8, 1.1, 0.5, 1.4, 0.9],
  [145, 0.7, 1.0, 0.3, 1.3, 0.6], [147, 0.5, 0.9, 0.1, 0.7, 1.1], [149, 0.3, 0.7, -0.1, 0.5, 1.0],
  [151, 0.2, 0.6, -0.3, 0.4, 0.9], [153, 0.0, 0.4, -0.5, 0.2, 0.8], [155, -0.2, 0.3, -0.7, 0.1, 0.6],
  [157, -0.4, 0.1, -0.9, -0.1, 0.5], [159, -0.6, 0.0, -1.1, -0.3, 0.4], [161, -0.8, -0.2, -1.4, -0.4, 0.3],
  [163, -1.0, -0.3, -1.6, -0.6, 0.2], [165, -1.2, -0.5, -1.9, -0.8, 0.1], [167, -1.5, -0.6, -2.2, -1.0, 0.0],
  [169, -1.7, -0.8, -2.5, -1.2, -0.2], [171, -2.0, -1.0, -2.8, -1.4, -0.3, -2.4], [173, -2.2, -1.2, -3.0, -1.6, -0.5, -2.6],
  [175, -2.5, -1.4, -3.2, -1.9, -0.6, -2.9], [177, -2.7, -1.6, -3.4, -2.1, -0.8, -3.0], [179, -2.9, -1.8, -3.6, -2.3, -0.9, -3.2],
  [181, -3.1, -2.0, -3.8, -2.5, -1.1, -3.4, -1.6], [183, -3.3, -2.2, -4.0, -2.7, -1.2, -3.6, -1.8],
  [185, -2.9, -3.6, -2.2, -4.2, -3.1, -1.4, -2.5], [187, -3.2, -2.5, -3.9, -2.8, -4.3, -1.6, -2.1],
  [189, -2.8, -3.6, -2.3, -4.1, -3.3, -1.7, -2.6], [191, -3.4, -2.6, -4.0, -3.0, -4.4, -1.9, -2.3],
  [193, -2.9, -3.7, -2.4, -4.2, -3.3, -1.8, -2.7], [195, -3.5, -2.7, -4.1, -3.1, -4.3, -1.7, -2.3],
  [197, -3.0, -3.8, -2.5, -4.2, -3.4, -1.9, -2.8], [199, -3.4, -2.6, -4.0, -3.0, -4.3, -1.6, -2.3],
  [201, -2.9, -3.6, -2.4, -4.1, -3.2, -1.7, -2.7], [203, -3.3, -2.5, -3.9, -2.9, -4.1, -1.5, -2.2],
  [205, -2.8, -3.5, -2.3, -3.9, -3.1, -1.3], [207, -2.6, -3.3, -2.1, -3.8, -2.9, -1.1],
  [209, -2.3, -3.0, -1.8, -3.6, -2.6, -0.9], [211, -2.0, -2.7, -1.5, -3.3, -2.2, -0.6],
  [213, -1.7, -2.4, -1.2, -3.0, -1.9, -0.4], [215, -1.4, -2.1, -0.9, -2.7, -1.6, -0.2],
  [217, -1.1, -1.8, -0.7, -2.3, -1.3, 0.0], [219, -0.9, -1.5, -0.5, -2.0, -1.1, 0.1],
  [221, -0.7, -1.2, -0.4, -1.6, -0.9, 0.2], [223, -0.6, -1.0, -0.3, -1.4, -0.7, 0.2],
  [225, -0.4, -0.8, -0.2, -1.1, -0.5], [227, -0.3, -0.6, -0.1, -0.9, -0.4, 0.2], [229, -0.2, -0.5, 0.0, -0.7, -0.3],
  [231, -0.1, -0.3, 0.1, -0.5], [233, 0.0, -0.2, 0.1, -0.4, -0.1], [235, 0.0, -0.1, 0.1, -0.3],
  [237, 0.1, -0.1, 0.0, 0.2, -0.2], [239, 0.0, 0.1, -0.1, 0.0], [241, 0.1, 0.0, -0.1, 0.2, 0.0],
  [243, 0.0, 0.1, -0.1, 0.0], [245, -0.1, 0.0, 0.1, 0.0, -0.2], [247, 0.0, 0.1, -0.1, 0.1],
  [249, 0.1, 0.0, -0.1, -1.4, 0.0], [251, 0.0, 0.1, -0.1, 0.0], [253, 0.1, 0.0, -0.1, 0.1, -0.8],
  [255, 0.0, 0.1, -0.1, 0.0], [257, 0.1, 0.0, -0.1, 0.1, 0.2], [259, 0.0, 0.1, -0.1, 0.1],
  [261, 0.1, 0.0, 0.2, -0.1, 0.3], [263, 0.1, 0.2, 0.0, 0.3, 0.5], [265, 0.2, 0.1, 0.4, 0.0, 0.7],
  [267, 0.3, 0.2, 0.6, 0.1, 0.9], [269, 0.5, 0.3, 0.8, 0.2, 1.1, 0.6], [271, 0.6, 0.4, 1.0, 0.3, 1.3, 0.8],
  [273, 0.8, 0.5, 1.2, 0.6, 1.5, 0.9], [275, 1.0, 0.6, 1.4, 0.8, 1.8, 1.1], [277, 1.2, 0.7, 1.6, 0.9, 2.1, 1.3],
  [279, 1.4, 0.9, 1.9, 1.1, 2.4, 1.6], [281, 1.6, 1.0, 2.1, 1.3, 2.7, 1.8], [283, 1.8, 1.1, 2.4, 1.4, 2.9, 2.0],
  [285, 2.0, 1.3, 2.6, 1.6, 3.2, 2.2], [287, 1.7, 2.3, 1.2, 2.8, 1.9, 3.4], [289, 2.1, 1.4, 2.6, 1.8, 3.6, 2.3],
  [291, 1.8, 2.5, 1.3, 2.9, 2.1, 3.7], [293, 2.3, 1.6, 2.8, 1.9, 3.3, 3.9], [295, 2.0, 2.7, 1.5, 3.1, 2.4, 4.1],
  [297, 2.5, 1.7, 3.0, 2.1, 3.5, 4.3], [299, 2.2, 2.9, 1.8, 3.3, 2.6, 4.5], [301, 2.7, 1.9, 3.2, 2.3, 3.7, 4.7],
  [303, 2.4, 3.1, 2.0, 3.5, 2.8, 4.9], [305, 2.9, 2.1, 3.3, 2.5, 4.0, 5.0], [307, 2.6, 3.2, 1.9, 3.6, 2.3, 4.8],
  [309, 3.0, 2.2, 2.7, 3.3, 1.8, 4.3], [311, 2.4, 2.9, 1.7, 2.6, 3.7, 1.2], [313, 2.7, 2.0, 3.1, 1.6, 2.3, 3.5],
  [315, 2.1, 2.6, 1.4, 2.9, 1.8, 3.3], [317, 2.3, 1.7, 2.8, 1.2, 2.0, 3.1], [319, 1.8, 2.4, 1.1, 2.1, 1.5, 2.9],
  [321, 2.0, 1.4, 2.5, 0.9, 1.7, 2.7], [323, 1.5, 2.1, 0.8, 1.8, 1.2, 2.4], [325, 1.7, 1.1, 1.9, 0.6, 1.4, 2.2],
  [327, 1.2, 1.6, 0.5, 1.3, 0.9, 2.0], [329, 1.4, 0.8, 1.1, 0.4, 1.7], [331, 0.9, 1.2, 0.4, 1.0, 0.7, 1.6],
  [333, 1.1, 0.6, 0.9, 0.3, 1.4], [335, 0.7, 1.0, 0.3, 0.8, 0.5, 1.3], [337, 0.9, 0.5, 0.7, 0.2, 1.1],
  [339, 0.6, 0.9, 0.3, 0.7, 0.4, 1.2], [341, 0.8, 0.4, 1.0, 0.2, 0.6], [343, 0.5, 0.9, 0.3, 1.1, 0.7, 1.5],
  [345, 0.8, 0.4, 1.2, 0.6, 0.9], [347, 1.0, 0.5, 0.8, 1.3, 0.3, 1.7], [349, 0.7, 1.1, 0.4, 0.9, 1.4],
  [351, 0.9, 0.6, 1.2, 0.8, 1.5, 0.4], [353, 1.1, 0.7, 1.4, 0.9, 1.7], [355, 0.8, 1.2, 0.6, 1.5, 1.0, 1.9],
  [357, 1.0, 0.7, 1.3, 0.9, 1.6], [359, 0.9, 1.3, 0.6, 1.1, 1.7, 0.4]
];

// setting up the chart
var widthSVG = 852;
var heightSVG = 829;
var plot = { left: 108, right: 762, top: 138, bottom: 737 };
var SY = 1.15;   // the picture is a bit taller than wide: horizontal text is stretched up
var SV = 1.32;   // and vertical titles are stretched along their length

var svg = d3.select(".chart")
  .append("svg")
  .attr("width", widthSVG)
  .attr("height", heightSVG);

svg.append("rect").attr("width", widthSVG).attr("height", heightSVG).attr("fill", "#fff");

// chart-area border (the bottom is cut off in the picture)
svg.append("path")
  .attr("d", "M3.5,900V3.5H849.5V900")
  .attr("fill", "none")
  .attr("stroke", "#444");

// scales
var xScale = d3.scaleLinear().domain([0, 360]).range([plot.left, plot.right]);
var yLeft = d3.scaleLinear().domain([-8, 12]).range([plot.bottom, plot.top]);
var yRight = d3.scaleLinear().domain([-14, 6]).range([plot.bottom, plot.top]);

// gridlines
svg.append("g").selectAll("line")
  .data(leftTicks)
  .enter()
  .append("line")
  .attr("x1", plot.left)
  .attr("x2", plot.right)
  .attr("y1", d => yLeft(d) + 0.5)
  .attr("y2", d => yLeft(d) + 0.5)
  .attr("stroke", (d, i) => (i === 0 || i === leftTicks.length - 1) ? "#8c8c8c" : "#000")
  .attr("stroke-width", 1.2);

// turning rows into points
function toPoints(rows) {
  var pts = [];
  rows.forEach(function (r) {
    r.slice(1).forEach(function (v) { pts.push({ dir: r[0], val: v }); });
  });
  return pts;
}

var upperPts = toPoints(upper);
var lowerPts = toPoints(lower);

// 107.6 m series first, 70.4 m drawn over it
svg.append("g").selectAll("rect")
  .data(upperPts)
  .enter()
  .append("rect")
  .attr("x", d => xScale(d.dir) - 1.5)
  .attr("y", d => yLeft(d.val) - 1.1)
  .attr("width", 3)
  .attr("height", 2.2)
  .attr("fill", "#000080");

svg.append("g").selectAll("rect")
  .data(lowerPts)
  .enter()
  .append("rect")
  .attr("x", d => xScale(d.dir) - 1.5)
  .attr("y", d => yRight(d.val) - 1.1)
  .attr("width", 3)
  .attr("height", 2.2)
  .attr("fill", "#ff00ff");

// axes
var leftAxis = d3.axisLeft(yLeft).tickValues(leftTicks).tickSizeInner(5).tickSizeOuter(0).tickPadding(8);
var rightAxis = d3.axisRight(yRight).tickValues(rightTicks).tickSizeInner(5).tickSizeOuter(0).tickPadding(5);
var bottomAxis = d3.axisBottom(xScale).tickValues(xTicks).tickSizeInner(5).tickSizeOuter(0).tickPadding(0);

var gLeft = svg.append("g")
  .attr("transform", `translate(${plot.left + 0.5}, 0.5)`)
  .call(leftAxis);

var gRight = svg.append("g")
  .attr("transform", `translate(${plot.right + 0.5}, 0.5)`)
  .call(rightAxis);

var gBottom = svg.append("g")
  .attr("transform", `translate(0.5, ${yLeft(0) + 0.5})`)
  .call(bottomAxis);

[gLeft, gRight, gBottom].forEach(function (g) {
  g.select(".domain").attr("stroke", "#6e6e6e");
  g.selectAll(".tick line").attr("stroke", "#6e6e6e");
  g.selectAll("text")
    .attr("font-family", '"Liberation Sans", Arial, sans-serif')
    .attr("font-size", 17)
    .attr("fill", "#000");
});
gBottom.select(".domain").attr("stroke", "#333");

gLeft.selectAll("text").attr("transform", `scale(1, ${SY})`);
gRight.selectAll("text").attr("transform", `scale(1, ${SY})`);
gBottom.selectAll("text")
  .attr("dy", null)
  .attr("y", 35 / SY)
  .attr("transform", `scale(1, ${SY})`);

// stretched text helper
function addText(x, y, str, size, weight, sy, rotate) {
  return svg.append("text")
    .attr("transform", `translate(${x}, ${y}) scale(1, ${sy})` + (rotate ? " rotate(-90)" : ""))
    .attr("text-anchor", "middle")
    .attr("font-size", size)
    .attr("font-weight", weight)
    .attr("fill", "#000")
    .text(str);
}

// title
addText(430, 55, titleLines[0], 23, "normal", 1.0, false);
addText(430, 85, titleLines[1], 23, "normal", 1.0, false);

// axis titles
addText(436, 773, xTitle, 16, "bold", 1.2, false);
var midY = 482;
addText(42, midY, leftTitle[0], 16, "bold", SV, true);
addText(58, midY, leftTitle[1], 16, "bold", SV, true);
addText(824, midY, rightTitle[0], 16, "bold", SV, true);
addText(840, midY, rightTitle[1], 16, "bold", SV, true);

// legend
var legend = svg.append("g");
legend.append("rect")
  .attr("x", 316.5).attr("y", 799.5)
  .attr("width", 238).attr("height", 60)
  .attr("fill", "#fff").attr("stroke", "#000");

var legendItems = [
  { name: seriesNames[0], color: "#000080", mx: 325, tx: 338 },
  { name: seriesNames[1], color: "#ff00ff", mx: 448, tx: 458 }
];
legendItems.forEach(function (d) {
  legend.append("rect")
    .attr("x", d.mx - 1).attr("y", 813)
    .attr("width", 2).attr("height", 2)
    .attr("fill", d.color);
  legend.append("text")
    .attr("transform", `translate(${d.tx}, 822) scale(1, ${SY})`)
    .attr("font-size", 16.5)
    .attr("fill", "#000")
    .text(d.name);
});
</script>
</body>
</html>
